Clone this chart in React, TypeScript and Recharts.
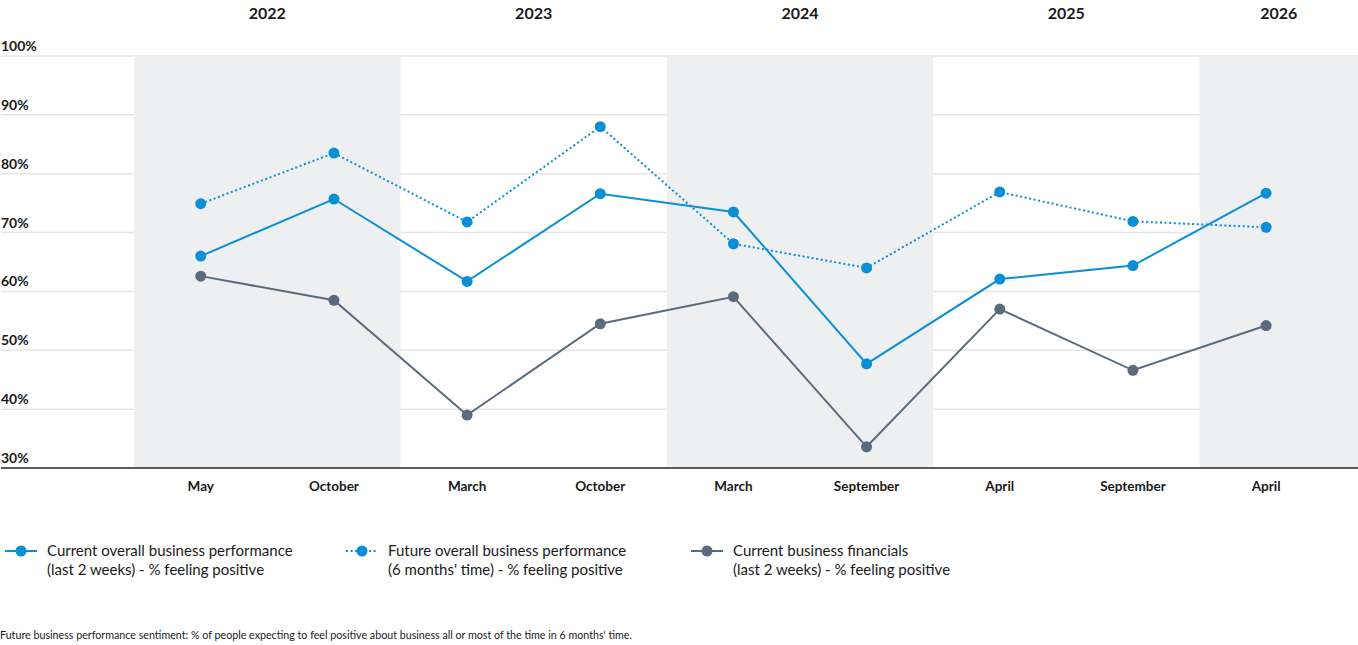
import React from "react";
import { LineChart, Line, XAxis, YAxis, CartesianGrid, ReferenceArea } from "recharts";

// months of each survey wave (two per year, 2022 - 2026)
const MONTHS = ["May", "October", "March", "October", "March", "September", "April", "September", "April"];
const YEARS = ["2022", "2023", "2024", "2025", "2026"];

// % feeling positive
const CURRENT_PERFORMANCE = [66, 75.7, 61.7, 76.6, 73.5, 47.7, 62.1, 64.4, 76.7];
const FUTURE_PERFORMANCE = [74.9, 83.5, 71.8, 88, 68.1, 64, 76.9, 71.9, 70.9];
const CURRENT_FINANCIALS = [62.6, 58.5, 39, 54.5, 59.1, 33.6, 57, 46.6, 54.2];

const Y_TICKS = [30, 40, 50, 60, 70, 80, 90, 100];

const BLUE = "#0a8fd6";
const GREY = "#5b6b7e";
const BAND = "#eeeff1";
const TEXT = "#1a1a1a";

const X_DOMAIN: [number, number] = [-1.5, 8.69];

const chartData = MONTHS.map((month, i) => ({
  i,
  month,
  current: CURRENT_PERFORMANCE[i],
  future: FUTURE_PERFORMANCE[i],
  financials: CURRENT_FINANCIALS[i],
}));

// each year holds two waves; band edges sit halfway between waves
const yearBands = YEARS.map((year, k) => {
  const from = 2 * k - 0.5;
  const to = Math.min(2 * k + 1.5, X_DOMAIN[1]);
  return { year, from, to, mid: (from + to) / 2, shaded: k % 2 === 0 };
});

const SERIES = [
  {
    key: "current",
    color: BLUE,
    dash: undefined as string | undefined,
    label: ["Current overall business performance", "(last 2 weeks) - % feeling positive"],
  },
  {
    key: "future",
    color: BLUE,
    dash: "2 2.6",
    label: ["Future overall business performance", "(6 months' time) - % feeling positive"],
  },
  {
    key: "financials",
    color: GREY,
    dash: undefined as string | undefined,
    label: ["Current business financials", "(last 2 weeks) - % feeling positive"],
  },
];

const LEGEND_LEFT = [5, 346, 691];

const YTick = (props: any) => {
  const { y, payload } = props;
  return (
    <text x={1} y={y - 5} fontSize={14} fontWeight={700} fill={TEXT} textAnchor="start">
      {`${payload.value}%`}
    </text>
  );
};

const MonthTick = (props: any) => {
  const { x, y, payload } = props;
  return (
    <text x={x} y={y + 23} fontSize={13.5} fontWeight={700} fill={TEXT} textAnchor="middle">
      {MONTHS[payload.value]}
    </text>
  );
};

const YearTick = (props: any) => {
  const { x, payload } = props;
  const band = yearBands.find((b) => Math.abs(b.mid - payload.value) < 1e-6);
  return (
    <text x={x} y={19} fontSize={16} fontWeight={700} fill={TEXT} textAnchor="middle">
      {band ? band.year : ""}
    </text>
  );
};

const LegendIcon = ({ color, dash }: { color: string; dash?: string }) => (
  <svg width={32} height={12} style={{ display: "block" }}>
    <line x1={0} y1={6} x2={32} y2={6} stroke={color} strokeWidth={2} strokeDasharray={dash} />
    <circle cx={16} cy={6} r={5.5} fill={color} />
  </svg>
);

export default function App() {
  return (
    <div
      style={{
        position: "absolute",
        left: 0,
        top: 0,
        width: 1358,
        height: 645,
        background: "#fff",
        fontFamily: "Lato, 'Noto Sans', sans-serif",
        color: TEXT,
      }}
    >
      <LineChart width={1358} height={510} data={chartData} margin={{ top: 0, right: 0, bottom: 0, left: 0 }}>
        <CartesianGrid vertical={false} stroke="#e6e6e6" strokeWidth={1.5} yAxisId="y" xAxisId="month" />
        {yearBands
          .filter((b) => b.shaded)
          .map((b) => (
            <ReferenceArea
              key={b.year}
              xAxisId="month"
              yAxisId="y"
              x1={b.from}
              x2={b.to}
              y1={30}
              y2={100}
              fill={BAND}
              fillOpacity={1}
              stroke="none"
              ifOverflow="hidden"
            />
          ))}
        <XAxis
          xAxisId="year"
          dataKey="i"
          orientation="top"
          type="number"
          domain={X_DOMAIN}
          allowDataOverflow
          ticks={yearBands.map((b) => b.mid)}
          interval={0}
          height={56}
          axisLine={false}
          tickLine={false}
          tick={<YearTick />}
        />
        <XAxis
          xAxisId="month"
          dataKey="i"
          type="number"
          domain={X_DOMAIN}
          allowDataOverflow
          ticks={MONTHS.map((_, i) => i)}
          interval={0}
          height={42}
          tickLine={false}
          tickSize={0}
          tickMargin={0}
          axisLine={{ stroke: "#2b2b2b", strokeWidth: 1.5 }}
          tick={<MonthTick />}
        />
        <YAxis
          yAxisId="y"
          width={1}
          domain={[30, 100]}
          ticks={Y_TICKS}
          interval={0}
          axisLine={false}
          tickLine={false}
          tick={<YTick />}
        />
        {SERIES.map((s) => (
          <Line
            key={s.key}
            xAxisId="month"
            yAxisId="y"
            dataKey={s.key}
            type="linear"
            stroke={s.color}
            strokeWidth={2}
            strokeDasharray={s.dash}
            dot={{ r: 5.5, fill: s.color, stroke: "none" }}
            activeDot={false}
            isAnimationActive={false}
          />
        ))}
      </LineChart>

      {SERIES.map((s, idx) => (
        <div
          key={s.key}
          style={{
            position: "absolute",
            left: LEGEND_LEFT[idx],
            top: 541,
            display: "flex",
            alignItems: "flex-start",
          }}
        >
          <div style={{ marginTop: 4 }}>
            <LegendIcon color={s.color} dash={s.dash} />
          </div>
          <div style={{ marginLeft: 10, fontSize: 15, lineHeight: "19px" }}>
            <div>{s.label[0]}</div>
            <div>{s.label[1]}</div>
          </div>
        </div>
      ))}

      <div style={{ position: "absolute", left: 0, top: 628, fontSize: 10.7, lineHeight: "14px" }}>
        Future business performance sentiment: % of people expecting to feel positive about business all or most of
        the time in 6 months' time.
      </div>
    </div>
  );
}
